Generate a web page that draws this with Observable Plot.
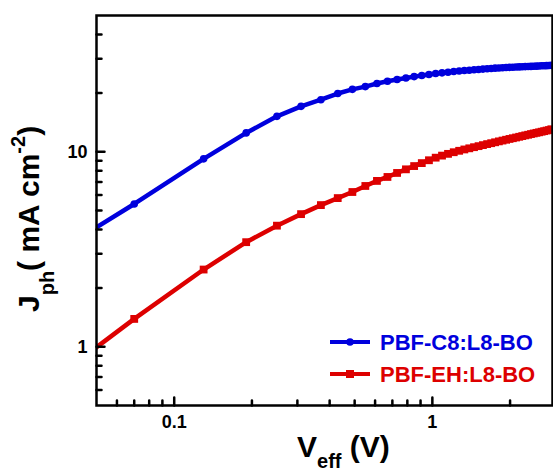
<!DOCTYPE html>
<html>
<head>
<meta charset="utf-8">
<script src="https://cdn.jsdelivr.net/npm/d3@7"></script>
<script src="https://cdn.jsdelivr.net/npm/@observablehq/plot@0.6"></script>
<style>
  html, body { margin: 0; padding: 0; background: white; }
</style>
</head>
<body>
<div id="chart"></div>
<script>
// Effective voltage (V)
const veff = [0.01, 0.07, 0.13, 0.19, 0.25, 0.31, 0.37, 0.43, 0.49, 0.55,
  0.61, 0.67, 0.73, 0.79, 0.85, 0.91, 0.97, 1.03, 1.09, 1.15,
  1.21, 1.27, 1.33, 1.39, 1.45, 1.51, 1.57, 1.63, 1.69, 1.75,
  1.81, 1.87, 1.93, 1.99, 2.05, 2.11, 2.17, 2.23, 2.29, 2.35,
  2.41, 2.47, 2.53, 2.59, 2.65, 2.71, 2.77, 2.83, 2.89];
// Jph (mA cm^-2), PBF-C8:L8-BO
const jphC8 = [1.1, 5.4, 9.2, 12.5, 15.2, 17.1, 18.5, 19.9, 20.9, 21.6,
  22.4, 23.0, 23.5, 23.9, 24.3, 24.6, 24.9, 25.2, 25.4, 25.6,
  25.8, 25.95, 26.1, 26.2, 26.35, 26.45, 26.55, 26.65, 26.75, 26.85,
  26.9, 27.0, 27.05, 27.1, 27.15, 27.2, 27.25, 27.3, 27.35, 27.4,
  27.42, 27.45, 27.5, 27.55, 27.6, 27.62, 27.65, 27.7, 27.75];
// Jph (mA cm^-2), PBF-EH:L8-BO
const jphEH = [0.2, 1.39, 2.49, 3.44, 4.18, 4.79, 5.33, 5.79, 6.22, 6.68,
  7.09, 7.43, 7.79, 8.13, 8.45, 8.75, 9.05, 9.33, 9.56, 9.76,
  9.95, 10.12, 10.28, 10.42, 10.56, 10.69, 10.82, 10.95, 11.07, 11.19,
  11.31, 11.42, 11.53, 11.64, 11.74, 11.84, 11.94, 12.04, 12.14, 12.23,
  12.33, 12.42, 12.51, 12.59, 12.68, 12.76, 12.85, 12.93, 13.05];

const seriesNames = ["PBF-C8:L8-BO", "PBF-EH:L8-BO"];
const seriesColors = ["#0000dd", "#dd0000"];

const xDomain = [0.05, 2.92];
const yDomain = [0.5, 50];
const xMajorTicks = [0.1, 1];
const xMinorTicks = [0.06, 0.07, 0.08, 0.09, 0.2, 0.3, 0.4, 0.5, 0.6, 0.7, 0.8, 0.9, 2];
const yMajorTicks = [1, 10];
const yMinorTicks = [0.6, 0.7, 0.8, 0.9, 2, 3, 4, 5, 6, 7, 8, 9, 20, 30, 40];

const c8 = veff.map((v, i) => ({v, j: jphC8[i]}));
const eh = veff.map((v, i) => ({v, j: jphEH[i]}));

const font = "'Liberation Sans', Arial, Helvetica, sans-serif";

const tickOpts = {r: 0, stroke: "black", strokeWidth: 2.5, anchor: "start"};

const svg = Plot.plot({
  width: 553,
  height: 471,
  marginLeft: 96,
  marginRight: 1,
  marginTop: 15,
  marginBottom: 66,
  style: {fontFamily: font, background: "white", color: "black"},
  x: {type: "log", domain: xDomain, label: null},
  y: {type: "log", domain: yDomain, label: null},
  marks: [
    Plot.line(c8, {x: "v", y: "j", stroke: seriesColors[0], strokeWidth: 4.5, clip: true}),
    Plot.dot(c8, {x: "v", y: "j", fill: seriesColors[0], r: 3.8, symbol: "circle", clip: true}),
    Plot.line(eh, {x: "v", y: "j", stroke: seriesColors[1], strokeWidth: 4.5, clip: true}),
    Plot.dot(eh, {x: "v", y: "j", fill: seriesColors[1], r: 4.4, symbol: "square", clip: true}),
    Plot.vector(xMajorTicks, {x: d => d, y: yDomain[0], length: 8, rotate: 0, ...tickOpts}),
    Plot.vector(xMinorTicks, {x: d => d, y: yDomain[0], length: 5, rotate: 0, ...tickOpts}),
    Plot.vector(yMajorTicks, {y: d => d, x: xDomain[0], length: 8, rotate: 90, ...tickOpts}),
    Plot.vector(yMinorTicks, {y: d => d, x: xDomain[0], length: 5, rotate: 90, ...tickOpts}),
    Plot.frame({stroke: "black", strokeWidth: 2.5}),
    Plot.axisX({ticks: xMajorTicks, tickSize: 0, tickPadding: 10, tickFormat: d => String(d),
      fontSize: 18, fontWeight: "bold", label: null}),
    Plot.axisY({ticks: yMajorTicks, tickSize: 0, tickPadding: 9, tickFormat: d => String(d),
      fontSize: 18, fontWeight: "bold", label: null})
  ]
});

document.getElementById("chart").appendChild(svg);

const s = d3.select(svg);

// X axis title: V_eff (V)
const xt = s.append("text")
  .attr("x", 297).attr("y", 457)
  .attr("text-anchor", "start")
  .attr("font-family", font).attr("font-weight", "bold").attr("font-size", 30)
  .attr("fill", "black");
xt.append("tspan").text("V");
xt.append("tspan").attr("font-size", 20).attr("dy", 11).text("eff");
xt.append("tspan").attr("dy", -11).text(" (V)");

// Y axis title: J_ph( mA cm^-2)
const yt = s.append("text")
  .attr("transform", "translate(39,312) rotate(-90)")
  .attr("text-anchor", "start")
  .attr("font-family", font).attr("font-weight", "bold").attr("font-size", 30)
  .attr("fill", "black");
yt.append("tspan").text("J");
yt.append("tspan").attr("font-size", 20).attr("dy", 15).text("ph");
yt.append("tspan").attr("dy", -15).text("( mA cm");
yt.append("tspan").attr("font-size", 20).attr("dy", -14).text("-2");
yt.append("tspan").attr("dy", 14).text(")");

// Legend
const legendY = [342, 374];
seriesNames.forEach((name, i) => {
  const g = s.append("g");
  const y = legendY[i];
  g.append("line").attr("x1", 330).attr("x2", 370).attr("y1", y).attr("y2", y)
    .attr("stroke", seriesColors[i]).attr("stroke-width", 4);
  if (i === 0) {
    g.append("circle").attr("cx", 350).attr("cy", y).attr("r", 3.8).attr("fill", seriesColors[i]);
  } else {
    g.append("rect").attr("x", 346).attr("y", y - 4).attr("width", 8).attr("height", 8).attr("fill", seriesColors[i]);
  }
  g.append("text").attr("x", 380).attr("y", y + 8)
    .attr("text-anchor", "start")
    .attr("font-family", font).attr("font-weight", "bold").attr("font-size", 22)
    .attr("fill", seriesColors[i]).text(name);
});
</script>
</body>
</html>
